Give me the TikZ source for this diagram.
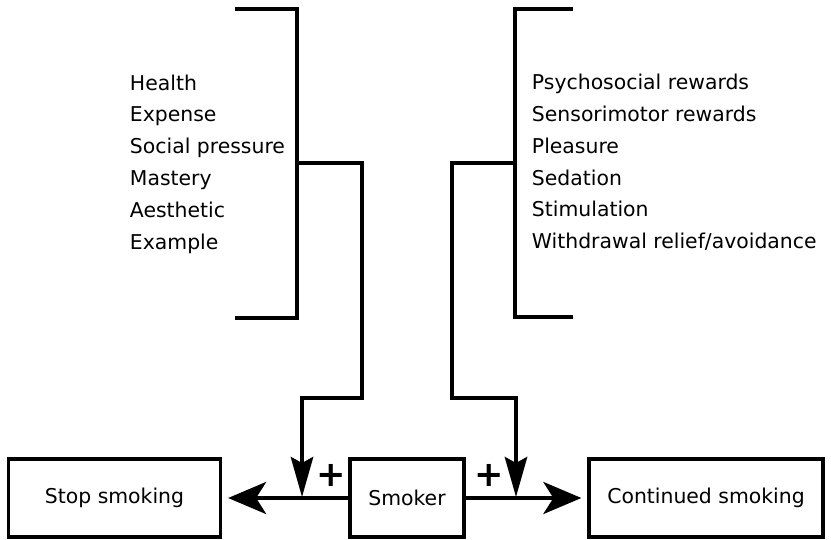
\documentclass[tikz,border=0pt]{standalone}
\usepackage{fontspec}
\setmainfont{DejaVu Sans}
\usetikzlibrary{arrows.meta}

\begin{document}
\begin{tikzpicture}[x=0.025cm,y=-0.025cm,line width=2.8pt,
    box/.style={draw,line width=2.8pt,minimum height=1.95cm,inner sep=0pt,font=\fontsize{14.5}{17}\selectfont},
    list/.style={align=left,inner sep=0pt,anchor=west,font=\fontsize{14.5}{22.6}\selectfont},
    plus/.style={inner sep=0pt,font=\fontsize{25}{25}\selectfont\bfseries},
    sidetip/.style={-{Stealth[length=9.5mm,width=8mm,inset=2.5mm]},shorten >=4pt},
    downtip/.style={-{Stealth[length=10mm,width=5.6mm,inset=1.5mm]}}]
\useasboundingbox (0,0) rectangle (831,540);
    % Boxes
    \node[box,minimum width=5.3cm] (stop) at (114.5,498) {Stop smoking};
    \node[box,minimum width=2.85cm] (smoker) at (407,498) {Smoker};
    \node[box,minimum width=5.85cm] (cont) at (706,498) {Continued smoking};

    % Lists
    \node[list] (stoplist) at (128,164) {Health\\Expense\\Social pressure\\Mastery\\Aesthetic\\Example};
    \node[list] (contlist) at (530,162.5) {Psychosocial rewards\\Sensorimotor rewards\\Pleasure\\Sedation\\Stimulation\\Withdrawal relief/avoidance};

    % Brackets
    \draw (235,9) -- (297,9) -- (297,318) -- (235,318);
    \draw (573,9) -- (515,9) -- (515,317) -- (573,317);
    \coordinate (ljoin) at (297,163);
    \coordinate (rjoin) at (515,163);
    \coordinate (ltip) at (302,497);
    \coordinate (rtip) at (516,497);

    % Feeds
    \draw[downtip] (ljoin) -- (362,163) -- (362,398) -- (302,398) -- (ltip);
    \draw[downtip] (rjoin) -- (452,163) -- (452,398) -- (516,398) -- (rtip);

    % Outcomes
    \draw[sidetip] (smoker.west) -- (stop.east);
    \draw[sidetip] (smoker.east) -- (cont.west);
    \node[plus] (plusl) at (331,475) {+};
    \node[plus] (plusr) at (489,475) {+};
\end{tikzpicture}
\end{document}
